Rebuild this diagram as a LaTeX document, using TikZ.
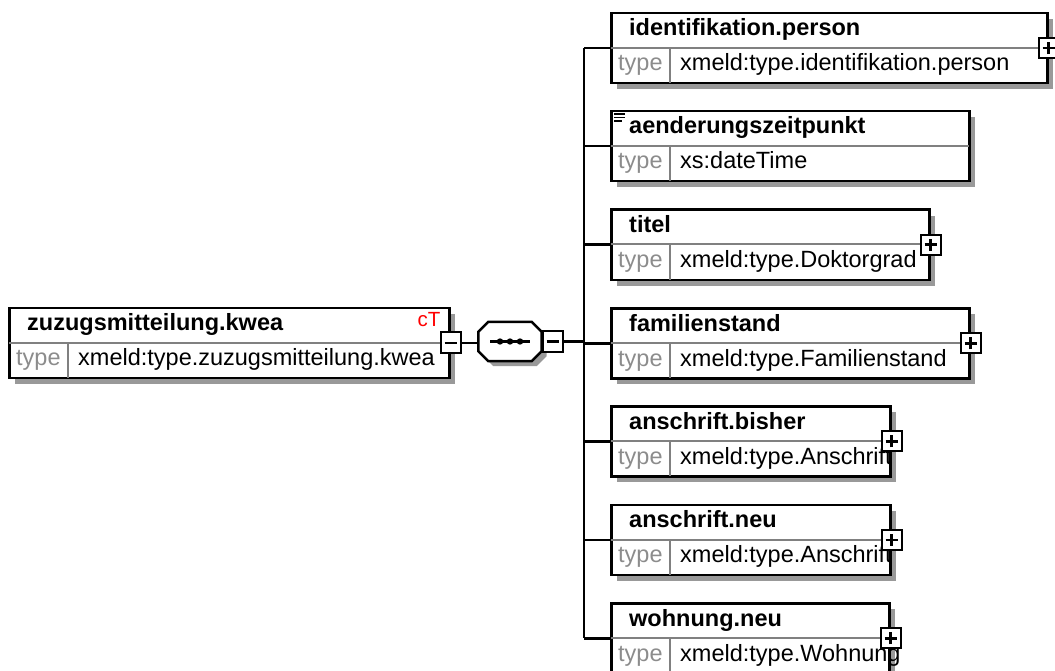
\documentclass[tikz,border=0pt]{standalone}
\usepackage{fontspec}
\setmainfont{Liberation Sans}
\usetikzlibrary{shadows,calc}

\definecolor{shadowgray}{gray}{0.6}
\definecolor{rulegray}{gray}{0.5}
\definecolor{typegray}{gray}{0.55}

\tikzset{
    elembox/.style={draw, line width=2.5pt, fill=white, minimum height=70pt, inner sep=0pt,
        anchor=north west,
        drop shadow={shadow xshift=6pt, shadow yshift=-6pt, fill=shadowgray, opacity=1}},
    divline/.style={draw=rulegray, line width=2pt, shorten <=1.2pt, shorten >=1.2pt},
    titletext/.style={anchor=base west, inner sep=0pt, font=\fontsize{23.5pt}{28pt}\selectfont\bfseries},
    typelabel/.style={anchor=base west, inner sep=0pt, text=typegray, font=\fontsize{23.5pt}{28pt}\selectfont},
    typetext/.style={anchor=base west, inner sep=0pt, font=\fontsize{23.5pt}{28pt}\selectfont},
    ctlabel/.style={anchor=base east, inner sep=0pt, text=red, font=\fontsize{20.5pt}{24pt}\selectfont},
    plusbox/.style={draw, line width=2pt, fill=white, minimum width=20pt, minimum height=20pt, inner sep=0pt,
        path picture={
            \draw[line width=2.5pt] ([xshift=-6pt]path picture bounding box.center) -- ([xshift=6pt]path picture bounding box.center);
            \draw[line width=2.5pt] ([yshift=-6pt]path picture bounding box.center) -- ([yshift=6pt]path picture bounding box.center);
        }},
    minusbox/.style={draw, line width=2pt, fill=white, minimum width=20pt, minimum height=21pt, inner sep=0pt,
        path picture={
            \draw[line width=2.5pt] ([xshift=-6pt]path picture bounding box.center) -- ([xshift=6pt]path picture bounding box.center);
        }},
    seqbox/.style={minimum width=63pt, minimum height=39pt, inner sep=0pt},
    seqshape/.style={draw, line width=2.5pt, fill=white,
        drop shadow={shadow xshift=5pt, shadow yshift=-5pt, fill=shadowgray, opacity=1}},
    conn/.style={line width=2.5pt}
}

% element box: name, left, top, width, title, type
\newcommand{\xsdelem}[6]{%
    \node[elembox, minimum width=#4pt] (#1) at (#2,#3) {};
    \draw[divline] ($(#1.north west)+(0,36)$) -- ($(#1.north east)+(0,36)$);
    \draw[divline, shorten <=0pt] ($(#1.north west)+(60,36)$) -- ($(#1.south west)+(60,0)$);
    \node[titletext] (#1-title) at ($(#1.north west)+(19,24)$) {#5};
    \node[typelabel] (#1-tl) at ($(#1.north west)+(8,59)$) {type};
    \node[typetext] (#1-type) at ($(#1.north west)+(70,59)$) {#6};
}

\begin{document}
\begin{tikzpicture}[x=1pt, y=-1pt]
    \useasboundingbox (0,0) rectangle (1055,671);

    % Root element
    \xsdelem{root}{8}{306.5}{440}{zuzugsmitteilung.kwea}{xmeld:type.zuzugsmitteilung.kwea}
    \node[ctlabel] (root-ct) at ($(root.north east)+(-10,20)$) {cT};
    \node[minusbox] (root-minus) at (root.east) {};

    % Sequence compositor
    \node[seqbox] (seq) at (510,341.5) {};
    \path[seqshape] ($(seq.north west)+(10,0)$) -- ($(seq.north east)+(-10,0)$)
        -- ($(seq.north east)+(0,10)$) -- ($(seq.south east)+(0,-10)$)
        -- ($(seq.south east)+(-10,0)$) -- ($(seq.south west)+(10,0)$)
        -- ($(seq.south west)+(0,-10)$) -- ($(seq.north west)+(0,10)$) -- cycle;
    \draw[line width=2.5pt] ($(seq.center)+(-20,0)$) -- ($(seq.center)+(20,0)$);
    \foreach \dx in {-10,0,10}
        \fill ($(seq.center)+(\dx,0)$) circle (3.2pt);
    \node[minusbox, anchor=west] (seq-minus) at (seq.east) {};

    % Child elements
    \xsdelem{ident}{610}{12}{436}{identifikation.person}{xmeld:type.identifikation.person}
    \node[plusbox] (ident-plus) at (ident.east) {};

    \xsdelem{aend}{610}{110}{358}{aenderungszeitpunkt}{xs:dateTime}
    \draw[line width=1.5pt] ($(aend.north west)+(4,4)$) -- +(11,0)
        ($(aend.north west)+(4,7.5)$) -- +(11,0)
        ($(aend.north west)+(4,11)$) -- +(8,0);

    \xsdelem{titel}{610}{208.5}{318}{titel}{xmeld:type.Doktorgrad}
    \node[plusbox] (titel-plus) at (titel.east) {};

    \xsdelem{famst}{610}{307}{358}{familienstand}{xmeld:type.Familienstand}
    \node[plusbox] (famst-plus) at (famst.east) {};

    \xsdelem{ansbis}{610}{405}{279}{anschrift.bisher}{xmeld:type.Anschrift}
    \node[plusbox] (ansbis-plus) at (ansbis.east) {};

    \xsdelem{ansneu}{610}{503.5}{279}{anschrift.neu}{xmeld:type.Anschrift}
    \node[plusbox] (ansneu-plus) at (ansneu.east) {};

    \xsdelem{wohn}{610}{602}{278}{wohnung.neu}{xmeld:type.Wohnung}
    \node[plusbox] (wohn-plus) at (wohn.east) {};

    % Connectors
    \coordinate (spine) at (584,341.5);
    \draw[conn] (root-minus.east) -- (root-minus.east -| seq.west);
    \draw[conn] (seq-minus.east) -- (spine);
    \draw[conn] (spine |- ident.west) -- (spine |- wohn.west);
    \foreach \c in {ident,aend,titel,famst,ansbis,ansneu,wohn}
        \draw[conn] (spine |- \c.west) -- (\c.west);
\end{tikzpicture}
\end{document}
